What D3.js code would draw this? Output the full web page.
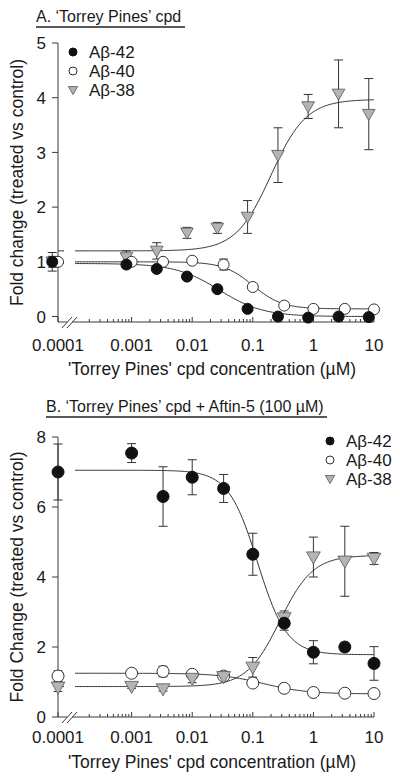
<!DOCTYPE html>
<html><head><meta charset="utf-8">
<script src="https://cdn.jsdelivr.net/npm/d3@7"></script>
<style>body{margin:0;background:#fff;} svg{display:block;font-family:"Liberation Sans",Arial,sans-serif;}</style>
</head><body>
<script>
// ---- data ----
const tickValues = [0.0001, 0.001, 0.01, 0.1, 1, 10];
const tickLabels = ["0.0001", "0.001", "0.01", "0.1", "1", "10"];
const seriesNames = ["A\u03b2-42", "A\u03b2-40", "A\u03b2-38"];

// Panel A
const aX42 = [0.000049, 0.00082, 0.0026, 0.0082, 0.026, 0.082, 0.26, 0.82, 2.6, 8.2];
const aY42 = [1.0, 0.95, 0.87, 0.73, 0.5, 0.14, 0.0, -0.02, 0.0, -0.01];
const aE42 = [0.17, 0.05, 0.05, 0.03, 0.04, 0.04, 0.02, 0.02, 0.02, 0.02];
const aX40 = [0.000061, 0.001, 0.0033, 0.01, 0.033, 0.1, 0.33, 1, 3.3, 10];
const aY40 = [1.0, 1.0, 1.0, 1.02, 0.95, 0.54, 0.2, 0.14, 0.14, 0.13];
const aE40 = [0.03, 0.03, 0.03, 0.03, 0.1, 0.03, 0.02, 0.02, 0.02, 0.02];
const aX38 = [0.000049, 0.00082, 0.0026, 0.0082, 0.026, 0.082, 0.26, 0.82, 2.6, 8.2];
const aY38 = [1.0, 1.08, 1.2, 1.53, 1.62, 1.82, 2.95, 3.84, 4.07, 3.7];
const aE38 = [0.1, 0.12, 0.15, 0.1, 0.1, 0.3, 0.5, 0.22, 0.62, 0.65];
// fit params: [low-conc plateau, high-conc plateau, EC50, hill]
const aFit42 = [0.97, 0.0, 0.028, 1.2];
const aFit40 = [1.0, 0.14, 0.1, 1.8];
const aFit38 = [1.2, 3.97, 0.2, 1.5];

// Panel B
const bX = [0.000061, 0.001, 0.0033, 0.01, 0.033, 0.1, 0.33, 1, 3.3, 10];
const bY42 = [7.0, 7.54, 6.3, 6.85, 6.53, 4.65, 2.68, 1.85, 2.0, 1.53];
const bE42 = [0.8, 0.27, 0.85, 0.5, 0.4, 0.6, 0.2, 0.33, 0.12, 0.48];
const bY40 = [1.17, 1.25, 1.3, 1.22, 1.17, 0.97, 0.82, 0.7, 0.68, 0.67];
const bE40 = [0.15, 0.1, 0.15, 0.08, 0.05, 0.1, 0.04, 0.04, 0.04, 0.05];
const bY38 = [0.85, 0.87, 0.8, 1.1, 1.15, 1.42, 2.83, 4.57, 4.45, 4.53];
const bE38 = [0.12, 0.05, 0.06, 0.12, 0.06, 0.28, 0.2, 0.57, 1.0, 0.17];
const bFit42 = [7.05, 1.78, 0.12, 1.8];
const bFit40 = [1.25, 0.66, 0.15, 1.2];
const bFit38 = [0.87, 4.62, 0.28, 1.6];

const aYTicks = [0, 1, 2, 3, 4, 5];
const bYTicks = [0, 2, 4, 6, 8];

// ---- drawing ----
const W = 400, H = 784;
const svg = d3.select("body").append("svg").attr("width", W).attr("height", H);
const AX = "#3a3a3a", TXT = "#1a1a1a", GRAY = "#b4b4b4";

function hill(p, c) { return p[0] + (p[1] - p[0]) / (1 + Math.pow(p[2] / c, p[3])); }

function panel(cfg) {
  const g = svg.append("g");
  const x = d3.scaleLog().domain([Math.pow(10, -4.215), 10]).range([58, 374]);
  const y = d3.scaleLinear().domain(cfg.yDomain).range(cfg.yRange);
  const tx = v => v === 0.0001 ? x.range()[0] : x(v);
  const y0 = cfg.yRange[0];

  // title
  g.append("text").attr("x", cfg.titleX).attr("y", cfg.titleY)
    .attr("font-size", 16).attr("fill", TXT).text(cfg.title);
  g.append("line").attr("x1", cfg.titleX).attr("x2", cfg.titleX2)
    .attr("y1", cfg.titleY + 5).attr("y2", cfg.titleY + 5).attr("stroke", "#222").attr("stroke-width", 1.3);

  // y axis
  g.append("line").attr("x1", 58).attr("x2", 58).attr("y1", cfg.yRange[0]).attr("y2", cfg.yRange[1])
    .attr("stroke", AX).attr("stroke-width", 1);
  cfg.yTicks.forEach(v => {
    g.append("line").attr("x1", 52).attr("x2", 58).attr("y1", y(v)).attr("y2", y(v)).attr("stroke", AX);
    g.append("text").attr("x", 46).attr("y", y(v)).attr("dy", "0.36em").attr("text-anchor", "end")
      .attr("font-size", 17).attr("fill", TXT).text(v);
  });
  g.append("text").attr("transform", `translate(23,${(cfg.yRange[0] + cfg.yRange[1]) / 2}) rotate(-90)`)
    .attr("text-anchor", "middle").attr("font-size", 17.5).attr("fill", TXT).text(cfg.yLabel);

  // x axis with break
  const bx1 = 67, bx2 = 72;
  g.append("line").attr("x1", 58).attr("x2", bx1).attr("y1", y0).attr("y2", y0).attr("stroke", AX);
  g.append("line").attr("x1", bx2).attr("x2", x(10)).attr("y1", y0).attr("y2", y0).attr("stroke", AX);
  [bx1, bx2].forEach(bx => {
    g.append("line").attr("x1", bx - 5).attr("x2", bx + 5).attr("y1", y0 + 6).attr("y2", y0 - 5)
      .attr("stroke", AX).attr("stroke-width", 1);
  });
  for (let e = -4; e < 1; e++) {
    for (let m = 2; m <= 9; m++) {
      const v = m * Math.pow(10, e);
      if (x(v) < bx2 + 8) continue;
      g.append("line").attr("x1", x(v)).attr("x2", x(v)).attr("y1", y0).attr("y2", y0 - 3).attr("stroke", AX);
    }
  }
  tickValues.forEach((v, i) => {
    g.append("line").attr("x1", tx(v)).attr("x2", tx(v)).attr("y1", y0).attr("y2", y0 - 5).attr("stroke", AX);
    g.append("text").attr("x", tx(v)).attr("y", y0 + cfg.xLabOff).attr("text-anchor", "middle")
      .attr("font-size", 17).attr("fill", TXT).text(tickLabels[i]);
  });
  g.append("text").attr("x", 212).attr("y", cfg.xTitleY).attr("text-anchor", "middle")
    .attr("font-size", 17.5).attr("fill", TXT).text("'Torrey Pines' cpd concentration (\u00b5M)");

  // curves (with gap at break)
  const line = d3.line().x(d => x(d[0])).y(d => y(d[1]));
  const mainStart = x.invert(75), stubEnd = x.invert(64);
  cfg.fits.forEach(p => {
    const pts = d3.range(0, 201).map(i => {
      const lc = Math.log10(mainStart) + (1 - Math.log10(mainStart)) * i / 200;
      const c = Math.pow(10, lc);
      return [c, hill(p, c)];
    });
    g.append("path").attr("d", line(pts)).attr("fill", "none").attr("stroke", "#333").attr("stroke-width", 1);
    const s0 = x.domain()[0];
    g.append("path").attr("d", line([[s0, hill(p, s0)], [stubEnd, hill(p, stubEnd)]]))
      .attr("fill", "none").attr("stroke", "#333").attr("stroke-width", 1);
  });

  // error bars + markers
  cfg.series.forEach(s => {
    s.xs.forEach((xv, i) => {
      const cx = x(xv), v = s.ys[i], e = s.es[i];
      if (e > 0) {
        const ya = y(v + e), yb = y(v - e);
        g.append("line").attr("x1", cx).attr("x2", cx).attr("y1", ya).attr("y2", yb).attr("stroke", "#333");
        g.append("line").attr("x1", cx - 4.5).attr("x2", cx + 4.5).attr("y1", ya).attr("y2", ya).attr("stroke", "#333");
        g.append("line").attr("x1", cx - 4.5).attr("x2", cx + 4.5).attr("y1", yb).attr("y2", yb).attr("stroke", "#333");
      }
    });
  });
  cfg.series.forEach(s => {
    s.xs.forEach((xv, i) => marker(g, s.type, x(xv), y(s.ys[i]), cfg.r));
  });

  // legend
  seriesNames.forEach((n, i) => {
    const ly = cfg.legY[i];
    marker(g, ["filled", "open", "tri"][i], cfg.legX, ly, 4);
    g.append("text").attr("x", cfg.legX + 16).attr("y", ly).attr("dy", "0.36em")
      .attr("font-size", 17).attr("fill", TXT).text(n);
  });
}

function marker(g, type, cx, cy, r) {
  if (type === "filled") {
    g.append("circle").attr("cx", cx).attr("cy", cy).attr("r", r).attr("fill", "#111").attr("stroke", "#111");
  } else if (type === "open") {
    g.append("circle").attr("cx", cx).attr("cy", cy).attr("r", r).attr("fill", "#fff").attr("stroke", "#333").attr("stroke-width", 1);
  } else {
    const s = r * 1.15;
    g.append("path").attr("d", `M${cx - s},${cy - s * 0.75}L${cx + s},${cy - s * 0.75}L${cx},${cy + s}Z`)
      .attr("fill", GRAY).attr("stroke", "#555").attr("stroke-width", 0.8);
  }
}

panel({
  title: "A. \u2018Torrey Pines\u2019 cpd", titleX: 36, titleX2: 185, titleY: 22,
  yDomain: [-0.1, 5], yRange: [322, 43], yTicks: aYTicks,
  yLabel: "Fold change (treated vs control)",
  xLabOff: 29, xTitleY: 375, r: 5.5,
  fits: [aFit38, aFit40, aFit42],
  series: [
    { type: "tri", xs: aX38, ys: aY38, es: aE38 },
    { type: "open", xs: aX40, ys: aY40, es: aE40 },
    { type: "filled", xs: aX42, ys: aY42, es: aE42 }
  ],
  legX: 73, legY: [52, 71, 90]
});

panel({
  title: "B. \u2018Torrey Pines\u2019 cpd + Aftin-5 (100 \u00b5M)", titleX: 46, titleX2: 327, titleY: 412,
  yDomain: [0, 8], yRange: [717, 437], yTicks: bYTicks,
  yLabel: "Fold Change (treated vs control)",
  xLabOff: 26, xTitleY: 768, r: 6,
  fits: [bFit42, bFit40, bFit38],
  series: [
    { type: "open", xs: bX, ys: bY40, es: bE40 },
    { type: "tri", xs: bX, ys: bY38, es: bE38 },
    { type: "filled", xs: bX, ys: bY42, es: bE42 }
  ],
  legX: 330, legY: [441, 460, 479]
});
</script>
</body></html>
